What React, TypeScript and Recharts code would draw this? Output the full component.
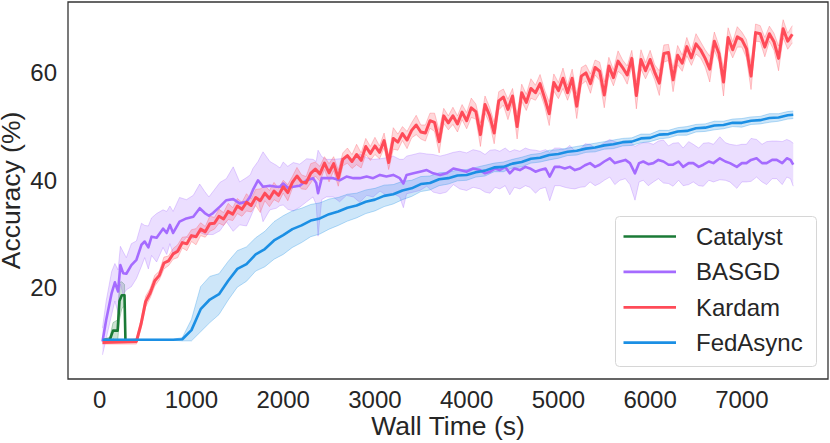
import React from 'react';
import { ComposedChart, Line, Area, XAxis, YAxis, ReferenceArea, Legend, Label } from 'recharts';

const FONT = '"Liberation Sans", Arial, Helvetica, sans-serif';
const TEXT = '#262626';

const xTicks = [0, 1000, 2000, 3000, 4000, 5000, 6000, 7000];
const yTicks = [20, 40, 60];

const seriesNames = ['Catalyst', 'BASGD', 'Kardam', 'FedAsync'];
const seriesColors = ['#1a7a36', '#a56bff', '#ff4b58', '#1b8fe4'];
const seriesWidths = [2.6, 2.6, 3.0, 2.6];

// Catalyst
const catalystTime = [30, 110, 145, 195, 215, 240, 270, 280];
const catalystMean = [10.3, 10.3, 12, 12, 17.5, 18.6, 18.6, 10.3];
const catalystStd = [0, 0.5, 1.5, 2, 3.5, 2.5, 2, 0];

// BASGD
const basgdTime = [
  30, 70, 130, 165, 200, 225, 255, 290, 345, 400,
  455, 490, 530, 565, 620, 690, 730, 765, 800, 870,
  945, 1020, 1090, 1145, 1190, 1235, 1310, 1380, 1455, 1525,
  1600, 1640, 1670, 1725, 1780, 1855, 1925, 1965, 2000, 2050,
  2110, 2180, 2255, 2325, 2360, 2380, 2420, 2470, 2545, 2615,
  2690, 2765, 2835, 2910, 2980, 3055, 3125, 3200, 3270, 3310,
  3345, 3420, 3490, 3565, 3635, 3710, 3780, 3855, 3925, 4000,
  4070, 4145, 4200, 4255, 4310, 4360, 4420, 4470, 4520, 4580,
  4640, 4690, 4750, 4800, 4860, 4905, 4960, 5015, 5070, 5125,
  5180, 5235, 5290, 5345, 5400, 5450, 5500, 5560, 5615, 5670,
  5730, 5780, 5835, 5880, 5925, 5980, 6035, 6090, 6145, 6200,
  6250, 6310, 6360, 6420, 6470, 6530, 6580, 6640, 6690, 6760,
  6820, 6870, 6945, 7000, 7050, 7100, 7160, 7220, 7270, 7330,
  7380, 7440, 7490, 7530, 7560,
];
const basgdMean = [
  10, 14, 19, 21, 19.3, 24.2, 22.7, 22.6, 24.2, 25.2,
  28, 28.6, 27.5, 29.5, 29.3, 31, 30.2, 31.7, 30.2, 32.3,
  32.9, 33.2, 34.8, 33.9, 33.4, 33.9, 35.1, 36.3, 36.5, 35.7,
  36, 37, 38.2, 40, 38.8, 39, 38.8, 38.8, 39.4, 38.6,
  38.8, 39, 40, 40.4, 39.5, 37.6, 40.4, 40.4, 40.4, 40,
  40.7, 40.4, 40.4, 40.7, 40.4, 41, 40.7, 41, 40.4, 39.4,
  41, 41.3, 41.6, 41.9, 41.3, 41, 41.3, 42.2, 41.9, 41.6,
  42.2, 41.9, 41.3, 41.6, 42.2, 41.9, 42.5, 41.3, 42.2, 41.9,
  42.5, 42.2, 41.6, 41.9, 42.2, 40.7, 42.5, 42.5, 42.2, 42.5,
  41.9, 42.2, 42.8, 43.2, 42.5, 42.9, 43.5, 44.1, 43.2, 43.5,
  43.8, 43.2, 41.3, 43.2, 43.5, 43, 43.2, 43.8, 43.5, 42.9,
  42.9, 43.5, 42.5, 43.2, 43.2, 42.5, 42.9, 43.5, 43.2, 44.1,
  43.5, 43.2, 42.5, 43.2, 43.2, 43.8, 44.1, 43.2, 43.2, 43.8,
  43.8, 43.2, 44.1, 43.8, 42.9,
];
const basgdStd = [
  2.5, 3.5, 4, 3.5, 4, 3.5, 4, 3, 4, 3.5,
  4, 3, 4, 3.5, 4.5, 3.5, 4, 3.5, 4, 4.5,
  3.5, 4, 4.5, 4, 3.5, 4, 4.5, 4, 6, 4,
  4.5, 4, 4, 3.5, 6.5, 4.5, 4, 3.5, 4, 4,
  4.5, 4, 4, 3.5, 4, 8, 4, 3.5, 3.5, 4,
  3.5, 3.5, 4.5, 3.5, 3.5, 3, 3.5, 3.5, 3.5, 4.5,
  3.5, 3.5, 3.5, 3, 3.5, 3.5, 3.5, 3, 3.5, 3.5,
  3.5, 3.5, 3.5, 4, 3.5, 3.5, 3.5, 4, 3.5, 3.5,
  3.5, 3.5, 4, 3.5, 3.5, 4.5, 3.5, 3.5, 3.5, 4,
  3.5, 3.5, 4, 3.5, 3.5, 3.5, 3.5, 3.5, 4, 3.5,
  3.5, 4, 5, 3.5, 3.5, 4, 3.5, 3.5, 4, 3.5,
  4, 3.5, 3.5, 4, 3.5, 3.5, 4, 3.5, 3.5, 4,
  3.5, 3.5, 4, 3.5, 3.5, 4, 3.5, 3.5, 4, 3.5,
  3.5, 4, 3.5, 3.5, 4,
];

// Kardam
const kardamTime = [
  30,
  400, 450, 500, 550, 600, 650, 700, 750, 800, 850,
  900, 950, 1000, 1050, 1100, 1150, 1200, 1250, 1300, 1350,
  1400, 1450, 1500, 1550, 1600, 1650, 1700, 1750, 1800, 1850,
  1900, 1950, 2000, 2050, 2100, 2150, 2200, 2250, 2300, 2350,
  2400, 2450, 2500, 2550, 2600, 2650, 2700, 2750, 2800, 2850,
  2900, 2950, 3000, 3050, 3100, 3150, 3200, 3250, 3300, 3350,
  3400, 3450, 3500, 3550, 3600, 3650, 3700, 3750, 3800, 3850,
  3900, 3950, 4000, 4050, 4100, 4150, 4200, 4250, 4300, 4350,
  4400, 4450, 4500, 4550, 4600, 4650, 4700, 4750, 4800, 4850,
  4900, 4950, 5000, 5050, 5100, 5150, 5200, 5250, 5300, 5350,
  5400, 5450, 5500, 5550, 5600, 5650, 5700, 5750, 5800, 5850,
  5900, 5950, 6000, 6050, 6100, 6150, 6200, 6250, 6300, 6350,
  6400, 6450, 6500, 6550, 6600, 6650, 6700, 6750, 6800, 6850,
  6900, 6950, 7000, 7050, 7100, 7150, 7200, 7250, 7300, 7350,
  7400, 7450, 7500, 7550,
];
const kardamMean = [
  9.8,
  10, 13.2, 17.4, 19, 21.3, 22.3, 24.6, 25, 26.3, 26.8,
  28.4, 28.2, 29.7, 29.5, 30.9, 30.4, 31.9, 32, 33.3, 32.8,
  34.2, 33.7, 35.2, 34.6, 35.9, 35.3, 36.8, 36.2, 37.6, 36.6,
  38, 37.2, 38.8, 37.7, 39.6, 40.8, 39.7, 39.5, 41.3, 42.1,
  41.2, 43.2, 41.4, 43.1, 40.4, 43.9, 44.6, 43.5, 44.8, 43.7,
  46.3, 45.0, 46.4, 45.2, 47.4, 43.3, 47.8, 47.1, 48.7, 47.5,
  49.3, 50.3, 49.0, 48.8, 51.1, 50.8, 47.2, 52.0, 50.7, 52.0,
  50.5, 52.7, 51.1, 53.5, 52.8, 48.5, 54.1, 52.1, 48.8, 54.8,
  55.5, 53.2, 55.7, 50.0, 56.3, 54.5, 57.1, 56.3, 58.0, 55.3,
  52.4, 58.2, 56.7, 59.0, 56.3, 59.0, 53.8, 59.4, 60.0, 58.0,
  61.0, 60.3, 55.9, 61.3, 59.1, 62.2, 61.0, 59.6, 62.7, 55.8,
  62.5, 60.4, 62.5, 60.1, 58.1, 63.6, 63.8, 58.7, 63.3, 61.8,
  64.9, 62.8, 65.4, 64.3, 62.7, 60.7, 65.9, 63.6, 58.3, 66.6,
  64.3, 66.7, 66.2, 64.5, 59.4, 67.5, 67.3, 64.8, 67.3, 65.8,
  62.7, 68.2, 65.9, 67.2,
];
const kardamStd = [
  0.3,
  0.5, 0.8, 1, 0.9, 1, 0.8, 1.1, 0.9, 1, 1.2,
  1, 1.3, 1.1, 1.5, 1.2, 1, 1.4, 1.1, 1.3, 1.2,
  1.5, 1.2, 1.4, 1.3, 1.6, 1.2, 1.5, 2.2, 1.4, 1.5,
  1.6, 1.3, 1.2, 1.5, 1.1, 1.6, 1.3, 1.2, 1.8, 1.3,
  1.4, 1.2, 1.7, 1.3, 1.5, 1.2, 1.4, 1.3, 1.9, 1.4,
  1.5, 1.3, 1.6, 1.2, 1.4, 1.3, 2.0, 1.5, 1.3, 1.6,
  1.4, 1.8, 1.3, 1.5, 1.4, 1.7, 2.1, 1.4, 1.3, 1.6,
  1.5, 1.4, 1.5, 1.8, 1.4, 2.2, 1.6, 1.5, 2.0, 1.7,
  1.5, 1.9, 1.4, 2.3, 1.6, 1.5, 1.8, 1.4, 1.7, 1.5,
  2.2, 1.6, 1.5, 1.9, 1.4, 1.7, 2.3, 1.6, 1.5, 1.8,
  1.4, 1.7, 2.4, 1.6, 1.5, 1.9, 1.4, 1.7, 1.5, 2.5,
  1.8, 1.5, 1.7, 1.4, 2.3, 1.6, 1.5, 2.2, 1.8, 1.5,
  1.7, 1.4, 1.9, 1.5, 1.6, 2.4, 1.7, 1.5, 2.6, 1.8,
  1.5, 1.9, 1.4, 1.7, 2.5, 1.6, 1.5, 1.8, 1.4, 1.6,
  2.3, 1.7, 1.5, 1.6,
];

// FedAsync
const fedTime = [
  30, 100, 200, 300, 400, 500, 600, 700, 800, 900,
  1000, 1100, 1200, 1300, 1400, 1500, 1600, 1700, 1800, 1900,
  2000, 2100, 2200, 2300, 2400, 2500, 2600, 2700, 2800, 2900,
  3000, 3100, 3200, 3300, 3400, 3500, 3600, 3700, 3800, 3900,
  4000, 4100, 4200, 4300, 4400, 4500, 4600, 4700, 4800, 4900,
  5000, 5100, 5200, 5300, 5400, 5500, 5600, 5700, 5800, 5900,
  6000, 6100, 6200, 6300, 6400, 6500, 6600, 6700, 6800, 6900,
  7000, 7100, 7200, 7300, 7400, 7500, 7560,
];
const fedMean = [
  10.3, 10.3, 10.3, 10.3, 10.3, 10.3, 10.3, 10.3, 10.3, 10.4,
  12.1, 16.0, 17.8, 18.8, 21.3, 23.5, 24.4, 26.2, 27.2, 28.8,
  29.8, 30.9, 31.6, 32.5, 32.9, 33.7, 34.2, 34.9, 35.3, 36.0,
  36.4, 37.1, 37.4, 38.1, 38.5, 39.3, 39.5, 40.2, 40.4, 40.9,
  41.0, 41.5, 41.8, 42.4, 42.5, 43.1, 43.4, 44.0, 44.2, 44.7,
  44.9, 45.3, 45.5, 45.9, 46.1, 46.5, 46.7, 47.1, 47.2, 47.8,
  47.9, 48.5, 48.6, 49.1, 49.2, 49.7, 49.8, 50.2, 50.3, 50.7,
  50.7, 51.1, 51.2, 51.6, 51.7, 52.1, 52.2,
];
const fedStd = [
  0.1, 0.1, 0.1, 0.1, 0.1, 0.1, 0.1, 0.1, 0.1, 0.3,
  2.0, 4.2, 4.3, 3.8, 3.6, 3.4, 3.2, 3.1, 3.3, 3.5,
  3.6, 3.4, 3.2, 3.0, 2.9, 2.8, 2.6, 2.5, 2.3, 2.2,
  2.1, 2.0, 1.8, 1.7, 1.5, 1.4, 1.3, 1.2, 1.1, 1.0,
  1.0, 0.9, 1.0, 0.8, 0.9, 0.8, 0.9, 0.8, 0.8, 0.9,
  0.8, 0.7, 0.8, 0.7, 0.8, 0.7, 0.8, 0.7, 0.7, 0.8,
  0.7, 0.8, 0.7, 0.7, 0.8, 0.7, 0.7, 0.8, 0.7, 0.7,
  0.8, 0.7, 0.7, 0.8, 0.7, 0.7, 0.7,
];

type Pt = { t: number; v: number; band: [number, number] };
const build = (time: number[], mean: number[], std: number[]): Pt[] =>
  time.map((t, i) => ({ t, v: mean[i], band: [mean[i] - (std[i] ?? 0), mean[i] + (std[i] ?? 0)] }));

const seriesData = [
  build(catalystTime, catalystMean, catalystStd),
  build(basgdTime, basgdMean, basgdStd),
  build(kardamTime, kardamMean, kardamStd),
  build(fedTime, fedMean, fedStd),
];

const X_DOMAIN: [number, number] = [-346, 7939];
const Y_DOMAIN: [number, number] = [3.0, 73.2];

const LegendBox = () => (
  <svg width={203} height={152} style={{ display: 'block' }}>
    <rect x={0.5} y={0.5} width={201} height={150} rx={4} ry={4} fill="#ffffff" fillOpacity={0.85} stroke="#d6d6d6" strokeWidth={1} />
    {seriesNames.map((name, i) => (
      <g key={name}>
        <line x1={8.5} x2={61} y1={20.5 + i * 35.4} y2={20.5 + i * 35.4} stroke={seriesColors[i]} strokeWidth={2.7} />
        <text x={81} y={29 + i * 35.4} fontSize={24} fill={TEXT} fontFamily={FONT}>
          {name}
        </text>
      </g>
    ))}
  </svg>
);

export default function App() {
  return (
    <div style={{ position: 'absolute', left: 0, top: 0, width: 830, height: 443, background: '#fff' }}>
      <ComposedChart width={830} height={443} margin={{ top: 2, right: 2, left: 0, bottom: 0 }}>
        <XAxis
          type="number"
          dataKey="t"
          domain={X_DOMAIN}
          allowDataOverflow
          ticks={xTicks}
          axisLine={false}
          tickLine={false}
          tickSize={0}
          tickMargin={12}
          height={64}
          tick={{ fontSize: 24, fill: TEXT, fontFamily: FONT }}
        >
          <Label
            content={(props: any) => {
              const vb = props.viewBox || { x: 68, y: 379, width: 760, height: 64 };
              return (
                <text x={vb.x + vb.width / 2} y={435} textAnchor="middle" fontSize={26.5} fill={TEXT} fontFamily={FONT}>
                  Wall Time (s)
                </text>
              );
            }}
          />
        </XAxis>
        <YAxis
          type="number"
          domain={Y_DOMAIN}
          allowDataOverflow
          ticks={yTicks}
          axisLine={false}
          tickLine={false}
          tickSize={0}
          tickMargin={11}
          width={68}
          tick={{ fontSize: 24, fill: TEXT, fontFamily: FONT }}
        >
          <Label
            content={(props: any) => {
              const vb = props.viewBox || { x: 0, y: 2, width: 68, height: 377 };
              const cy = vb.y + vb.height / 2;
              return (
                <text
                  x={20}
                  y={cy}
                  transform={`rotate(-90 20 ${cy})`}
                  textAnchor="middle"
                  fontSize={26.5}
                  fill={TEXT}
                  fontFamily={FONT}
                >
                  Accuracy (%)
                </text>
              );
            }}
          />
        </YAxis>
        {seriesData.map((data, i) => [
          <Area
            key={`band-${i}`}
            data={data}
            dataKey="band"
            type="linear"
            stroke={seriesColors[i]}
            strokeOpacity={0.3}
            strokeWidth={1}
            fill={seriesColors[i]}
            fillOpacity={0.22}
            isAnimationActive={false}
            dot={false}
            activeDot={false}
            legendType="none"
          />,
          <Line
            key={`line-${i}`}
            data={data}
            dataKey="v"
            name={seriesNames[i]}
            type="linear"
            stroke={seriesColors[i]}
            strokeWidth={seriesWidths[i]}
            strokeLinejoin="round"
            dot={false}
            activeDot={false}
            isAnimationActive={false}
          />,
        ])}
        <ReferenceArea
          x1={X_DOMAIN[0]}
          x2={X_DOMAIN[1]}
          y1={Y_DOMAIN[0]}
          y2={Y_DOMAIN[1]}
          fill="none"
          stroke="#333333"
          strokeWidth={1.3}
          ifOverflow="visible"
        />
        <Legend
          layout="vertical"
          align="center"
          verticalAlign="middle"
          wrapperStyle={{ left: 615, top: 216, width: 203, height: 152 }}
          content={() => <LegendBox />}
        />
      </ComposedChart>
    </div>
  );
}
